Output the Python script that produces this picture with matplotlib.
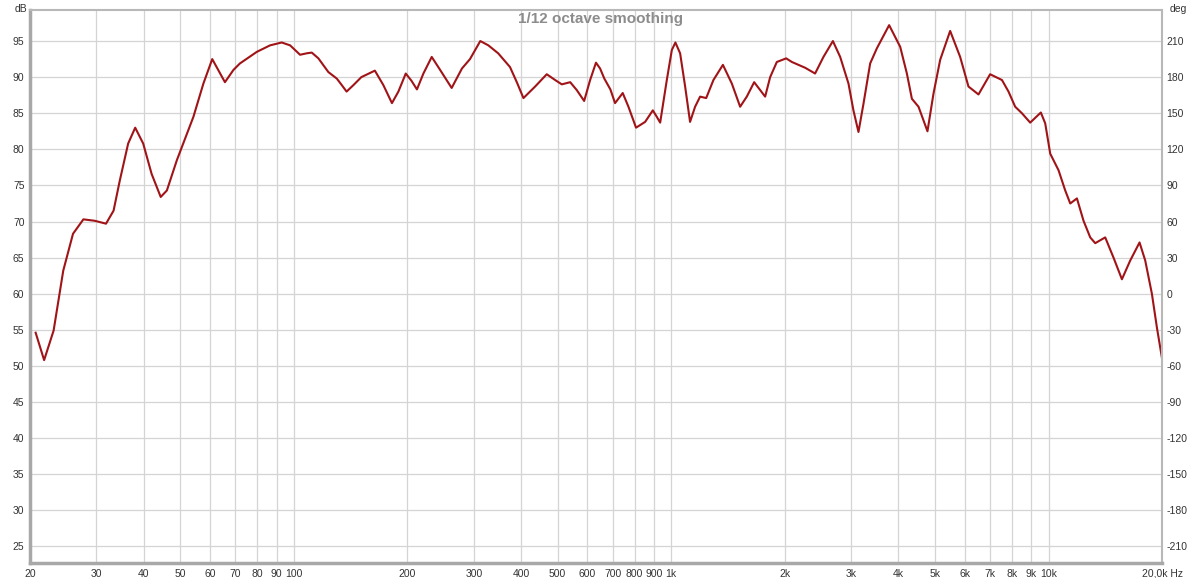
import matplotlib
matplotlib.use("Agg")
import matplotlib.pyplot as plt

plt.rcParams['font.family'] = ['Liberation Sans', 'DejaVu Sans']
plt.rcParams['axes.unicode_minus'] = False

# frequency response (Hz, dB)
freq = [20.7, 21.8, 23.1, 24.5, 26.0, 27.7, 29.7, 31.8, 33.3, 34.6, 36.4, 38.0, 39.9,
        42.0, 44.4, 46.1, 49.0, 54.2, 57.6, 60.8, 63.8, 65.7, 69.2, 72.0, 79.8, 86.5,
        92.9, 97.8, 103.9, 108.2, 111.6, 116.2, 123.5, 130, 134, 138, 143.9, 151, 164,
        172.7, 182, 189.3, 198, 205, 212, 220.5, 232, 244.2, 262, 279, 293, 312, 327.8,
        348, 374, 389.9, 406, 436, 468, 492.6, 513, 540, 562.2, 588, 609.8, 632, 648,
        665, 690, 710, 744, 770.4, 807, 853, 894, 916, 935, 973.6, 1003.8, 1026, 1056,
        1088.8, 1122, 1157, 1193, 1238, 1294, 1371, 1448, 1523, 1586, 1659, 1721, 1774,
        1829, 1905, 2017, 2088, 2196, 2264, 2406, 2532, 2682, 2804, 2950, 3040, 3135,
        3232, 3367, 3508, 3780, 4044, 4212, 4343, 4522, 4662, 4776, 4954, 5161, 5485,
        5830, 6133, 6520, 7000, 7524, 7830, 8156, 8498, 8938, 9538, 9796, 10100, 10626,
        11068, 11412, 11888, 12376, 12892, 13292, 14126, 14860, 15642, 16456, 17418,
        18032, 18780, 19366, 20000]
spl = [54.6, 50.8, 54.9, 63.2, 68.3, 70.3, 70.1, 69.7, 71.5, 75.7, 80.8, 83.0, 80.8,
       76.6, 73.4, 74.3, 78.5, 84.5, 89.1, 92.5, 90.5, 89.3, 91.0, 91.9, 93.5, 94.4,
       94.8, 94.4, 93.1, 93.3, 93.4, 92.6, 90.7, 89.8, 88.9, 88.0, 88.9, 90.0, 90.9,
       88.9, 86.4, 88.0, 90.5, 89.5, 88.3, 90.5, 92.8, 91.0, 88.5, 91.2, 92.5, 95.0, 94.4,
       93.3, 91.4, 89.3, 87.1, 88.7, 90.4, 89.6, 89.0, 89.3, 88.2, 86.7, 89.6, 92.0, 91.2,
       89.8, 88.3, 86.4, 87.8, 85.9, 83.0, 83.8, 85.4, 84.5, 83.7, 89.6, 93.75, 94.8, 93.3,
       88.7, 83.8, 85.9, 87.3, 87.1, 89.6, 91.7, 89.1, 85.9, 87.3, 89.3, 88.2, 87.3,
       90.0, 92.1, 92.6, 92.1, 91.6, 91.3, 90.5, 92.8, 95.0, 92.8, 89.1, 85.4, 82.4,
       86.3, 91.9, 94.0, 97.2, 94.2, 90.5, 87.0, 85.9, 84.0, 82.5, 87.7, 92.4, 96.4,
       92.8, 88.7, 87.6, 90.4, 89.6, 88.0, 85.9, 85.0, 83.7, 85.1, 83.6, 79.4, 77.1,
       74.3, 72.5, 73.2, 70.1, 67.8, 67.0, 67.8, 65.0, 62.0, 64.6, 67.1,
       64.6, 60.0, 55.3, 50.9]

xticks = [20, 30, 40, 50, 60, 70, 80, 90, 100, 200, 300, 400, 500, 600, 700, 800, 900,
          1000, 2000, 3000, 4000, 5000, 6000, 7000, 8000, 9000, 10000, 20000]
xlabels = ['20', '30', '40', '50', '60', '70', '80', '90', '100', '200', '300', '400',
           '500', '600', '700', '800', '900', '1k', '2k', '3k', '4k', '5k', '6k', '7k',
           '8k', '9k', '10k', '20,0k Hz']
db_ticks = list(range(25, 100, 5))
deg_ticks = list(range(-210, 211, 30))

fig = plt.figure(figsize=(12, 5.78), dpi=100)
ax = fig.add_axes([0.025, 0.026, 0.9435, 0.9567])

ax.plot(freq, spl, color='#a01418', lw=1.5, solid_joinstyle='round')

ax.set_xscale('log')
ax.set_xlim(20, 20000)
ax.set_ylim(22.7, 99.3)
ax.set_xticks(xticks)
ax.set_xticklabels(xlabels)
ax.xaxis.set_minor_locator(matplotlib.ticker.NullLocator())
ax.set_yticks(db_ticks)
ax.grid(True, color='#d4d4d4', lw=0.9)
ax.tick_params(length=0, labelsize=7.5, colors='#333333', pad=4)
for s in ['left', 'bottom']:
    ax.spines[s].set_color('#a8a8a8')
    ax.spines[s].set_linewidth(2.5)
for s in ['right', 'top']:
    ax.spines[s].set_color('#b8b8b8')
    ax.spines[s].set_linewidth(1.5)

# phase axis on the right
ax2 = ax.twinx()
ax2.set_ylim((22.7 - 60) * 6, (99.3 - 60) * 6)
ax2.set_yticks(deg_ticks)
ax2.tick_params(length=0, labelsize=7.5, colors='#333333', pad=3)
for s in ax2.spines.values():
    s.set_visible(False)

fig.text(0.012, 0.993, 'dB', fontsize=7.5, color='#333333', va='top')
fig.text(0.975, 0.993, 'deg', fontsize=7.5, color='#333333', va='top')
fig.text(0.5, 0.967, '1/12 octave smoothing', fontsize=11, fontweight='bold',
         color='#8c8c8c', ha='center', va='center')

fig.savefig('out.png', dpi=100)
